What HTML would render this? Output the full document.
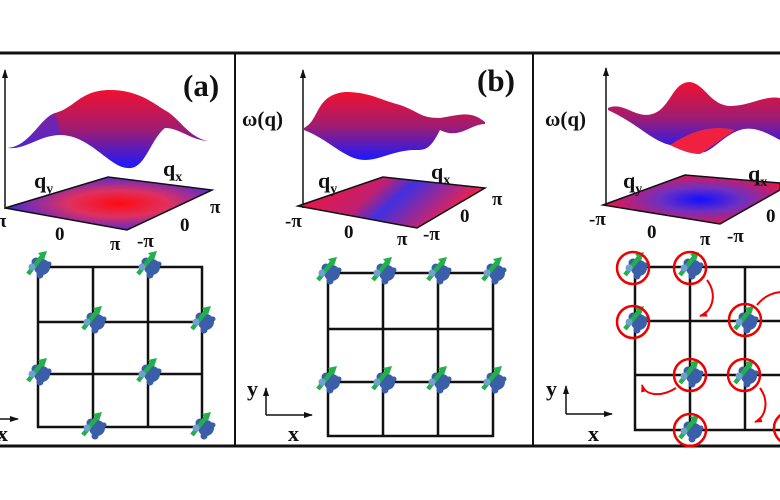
<!DOCTYPE html>
<html><head><meta charset="utf-8"><style>
html,body{margin:0;padding:0;background:#fff;width:780px;height:500px;overflow:hidden}
text{font-family:"Liberation Serif",serif;font-weight:bold;fill:#111}
</style></head><body>
<svg width="780" height="500" viewBox="0 0 780 500" xmlns="http://www.w3.org/2000/svg">
<defs>
<linearGradient id="sv" x1="0" y1="0" x2="0" y2="1">
<stop offset="0" stop-color="#f01030"/><stop offset="0.5" stop-color="#a01c70"/><stop offset="1" stop-color="#1a1aff"/></linearGradient>
<linearGradient id="sva" x1="0" y1="0" x2="1" y2="0">
<stop offset="0" stop-color="#3a2af0"/><stop offset="0.3" stop-color="#b02070"/><stop offset="0.7" stop-color="#b02070"/><stop offset="1" stop-color="#5a2ad0"/></linearGradient>
<radialGradient id="pa" cx="0.55" cy="0.5" r="0.6"><stop offset="0" stop-color="#ff0a10"/><stop offset="0.4" stop-color="#e03060"/><stop offset="1" stop-color="#2a2af0"/></radialGradient>
<radialGradient id="pc" cx="0.55" cy="0.5" r="0.6"><stop offset="0" stop-color="#1010ff"/><stop offset="0.4" stop-color="#7030c0"/><stop offset="1" stop-color="#ff1030"/></radialGradient>
<linearGradient id="pb" x1="0" y1="0" x2="1" y2="0.3"><stop offset="0" stop-color="#ff1030"/><stop offset="0.45" stop-color="#c02070"/><stop offset="0.6" stop-color="#4030e0"/><stop offset="1" stop-color="#ff2040"/></linearGradient>
<marker id="ah" markerUnits="userSpaceOnUse" markerWidth="10" markerHeight="10" refX="8" refY="5" orient="auto"><path d="M0,2 L9,5 L0,8 Z" fill="#111"/></marker>
<marker id="rh" markerUnits="userSpaceOnUse" markerWidth="10" markerHeight="10" refX="7" refY="5" orient="auto"><path d="M0,2 L8,5 L0,8 Z" fill="#e00"/></marker>
<g id="spin">
<circle cx="4" cy="1" r="8" fill="#3a5ea8"/>
<circle cx="-2" cy="-4" r="4.5" fill="#3a5ea8"/>
<circle cx="2" cy="9" r="3.5" fill="#3a5ea8"/>
<circle cx="11" cy="-2" r="2.5" fill="#3a5ea8"/>
<path d="M-10,8 L5,-11" stroke="#22b04a" stroke-width="4.5"/>
<path d="M0,-13 L9,-15 L6,-6 Z" fill="#22b04a"/>
<circle cx="-6" cy="1" r="3.5" fill="#6fa0d0"/>
</g>
<g id="rc"><circle r="16" fill="none" stroke="#e00" stroke-width="2.5"/></g>
</defs>

<line x1="0" y1="53" x2="780" y2="53" stroke="#111" stroke-width="3"/>
<line x1="0" y1="446" x2="780" y2="446" stroke="#111" stroke-width="3"/>
<line x1="235" y1="53" x2="235" y2="446" stroke="#111" stroke-width="2"/>
<line x1="533" y1="53" x2="533" y2="446" stroke="#111" stroke-width="2"/>

<!-- Panel a -->
<line x1="5" y1="209" x2="5" y2="70" stroke="#111" stroke-width="1.5" marker-end="url(#ah)"/>
<path d="M8,148 C30,146 40,118 55,113 C75,108 80,90 110,90 C140,90 155,105 168,112 C180,120 190,138 208,141 C190,140 180,128 165,128 C150,140 145,170 128,168 C110,168 90,135 60,135 C40,135 25,150 8,148 Z" fill="url(#sv)"/>
<path d="M8,148 C30,146 40,118 55,113 C60,125 60,135 60,135 C40,135 25,150 8,148 Z" fill="#4a2ae0" opacity="0.6"/>
<polygon points="5,208 108,177 212,190 127,230" fill="url(#pa)" stroke="#111" stroke-width="1.5"/>
<text x="183" y="96" font-size="31">(a)</text>
<text x="34" y="188" font-size="22">q<tspan font-size="14" dy="5">y</tspan></text>
<text x="163" y="176" font-size="22">q<tspan font-size="14" dy="5">x</tspan></text>
<text x="-4" y="227" font-size="19">π</text>
<text x="55" y="240" font-size="19">0</text>
<text x="110" y="250" font-size="19">π</text>
<text x="137" y="247" font-size="19">-π</text>
<text x="180" y="231" font-size="19">0</text>
<text x="210" y="213" font-size="19">π</text>
<g stroke="#111" stroke-width="2.5" fill="none">
<rect x="38" y="267" width="164" height="160"/>
<line x1="93" y1="267" x2="93" y2="427"/><line x1="148" y1="267" x2="148" y2="427"/>
<line x1="38" y1="322" x2="202" y2="322"/><line x1="38" y1="374" x2="202" y2="374"/>
</g>
<use href="#spin" x="38" y="266"/><use href="#spin" x="148" y="266"/>
<use href="#spin" x="93" y="321"/><use href="#spin" x="202" y="321"/>
<use href="#spin" x="38" y="373"/><use href="#spin" x="148" y="373"/>
<use href="#spin" x="93" y="427"/><use href="#spin" x="202" y="427"/>
<line x1="0" y1="419" x2="18" y2="419" stroke="#111" stroke-width="1.5" marker-end="url(#ah)"/>
<text x="-3" y="441" font-size="22">x</text>

<!-- Panel b -->
<line x1="303" y1="208" x2="303" y2="70" stroke="#111" stroke-width="1.5" marker-end="url(#ah)"/>
<path d="M304,128 C320,120 315,95 345,92 C370,92 380,100 400,105 C420,112 420,118 440,118 C460,115 470,110 485,122 L485,124 C470,124 460,140 440,130 C430,150 425,150 415,150 C395,150 380,160 365,160 C345,160 330,140 304,130 Z" fill="url(#sv)"/>
<polygon points="298,206 383,177 485,188 417,228" fill="url(#pb)" stroke="#111" stroke-width="1.5"/>
<text x="477" y="91" font-size="31">(b)</text>
<text x="242" y="126" font-size="21">ω(q)</text>
<text x="318" y="188" font-size="22">q<tspan font-size="14" dy="5">y</tspan></text>
<text x="431" y="179" font-size="22">q<tspan font-size="14" dy="5">x</tspan></text>
<text x="285" y="227" font-size="19">-π</text>
<text x="344" y="238" font-size="19">0</text>
<text x="397" y="245" font-size="19">π</text>
<text x="423" y="240" font-size="19">-π</text>
<text x="460" y="222" font-size="19">0</text>
<text x="492" y="205" font-size="19">π</text>
<g stroke="#111" stroke-width="2.5" fill="none">
<rect x="328" y="273" width="165" height="163"/>
<line x1="383" y1="273" x2="383" y2="436"/><line x1="438" y1="273" x2="438" y2="436"/>
<line x1="328" y1="329" x2="493" y2="329"/><line x1="328" y1="382" x2="493" y2="382"/>
</g>
<use href="#spin" x="328" y="272"/><use href="#spin" x="383" y="272"/><use href="#spin" x="438" y="272"/><use href="#spin" x="493" y="272"/>
<use href="#spin" x="328" y="381"/><use href="#spin" x="383" y="381"/><use href="#spin" x="438" y="381"/><use href="#spin" x="493" y="381"/>
<line x1="266" y1="415" x2="312" y2="415" stroke="#111" stroke-width="1.5" marker-end="url(#ah)"/>
<line x1="266" y1="415" x2="266" y2="388" stroke="#111" stroke-width="1.5" marker-end="url(#ah)"/>
<text x="247" y="396" font-size="22">y</text>
<text x="288" y="441" font-size="22">x</text>

<!-- Panel c -->
<line x1="606" y1="206" x2="606" y2="68" stroke="#111" stroke-width="1.5" marker-end="url(#ah)"/>
<path d="M608,108 C625,100 640,125 660,110 C672,100 675,82 690,82 C705,84 710,105 730,106 C750,106 765,95 780,98 L780,140 C770,135 755,125 740,130 C725,135 715,148 705,152 C690,155 680,145 670,145 C650,140 640,125 608,110 Z" fill="url(#sv)"/>
<path d="M670,145 C690,132 710,124 735,130 C720,140 705,152 700,154 C690,154 680,150 670,145 Z" fill="#f02040"/>
<polygon points="603,205 685,175 780,183 780,190 720,224" fill="url(#pc)" stroke="#111" stroke-width="1.5"/>
<text x="545" y="126" font-size="21">ω(q)</text>
<text x="623" y="188" font-size="22">q<tspan font-size="14" dy="5">y</tspan></text>
<text x="748" y="181" font-size="22">q<tspan font-size="14" dy="5">x</tspan></text>
<text x="589" y="225" font-size="19">-π</text>
<text x="647" y="238" font-size="19">0</text>
<text x="700" y="245" font-size="19">π</text>
<text x="727" y="242" font-size="19">-π</text>
<text x="766" y="222" font-size="19">0</text>
<g stroke="#111" stroke-width="2.5" fill="none">
<polyline points="790,267 635,267 635,430 790,430"/>
<line x1="690" y1="267" x2="690" y2="430"/><line x1="745" y1="267" x2="745" y2="430"/>
<line x1="635" y1="321" x2="790" y2="321"/><line x1="635" y1="375" x2="790" y2="375"/>
</g>
<use href="#spin" x="635" y="267"/><use href="#rc" x="633" y="268"/>
<use href="#spin" x="690" y="267"/><use href="#rc" x="690" y="268"/>
<use href="#spin" x="635" y="321"/><use href="#rc" x="633" y="322"/>
<use href="#spin" x="745" y="321"/><use href="#rc" x="745" y="320"/>
<use href="#spin" x="690" y="375"/><use href="#rc" x="690" y="375"/>
<use href="#spin" x="745" y="375"/><use href="#rc" x="744" y="375"/>
<use href="#spin" x="690" y="430"/><use href="#rc" x="690" y="430"/>
<circle cx="790" cy="428" r="16" fill="none" stroke="#e00" stroke-width="2.5"/>
<g fill="none" stroke="#e00" stroke-width="2">
<path d="M707,280 C718,295 712,312 700,316" marker-end="url(#rh)"/>
<path d="M757,305 C765,295 775,292 782,292"/>
<path d="M676,388 C660,398 645,395 642,385" marker-end="url(#rh)"/>
<path d="M760,388 C770,402 765,418 755,422" marker-end="url(#rh)"/>
</g>
<line x1="566" y1="414" x2="566" y2="386" stroke="#111" stroke-width="1.5" marker-end="url(#ah)"/>
<line x1="566" y1="414" x2="612" y2="414" stroke="#111" stroke-width="1.5" marker-end="url(#ah)"/>
<text x="546" y="396" font-size="22">y</text>
<text x="588" y="441" font-size="22">x</text>
</svg>
</body></html>
